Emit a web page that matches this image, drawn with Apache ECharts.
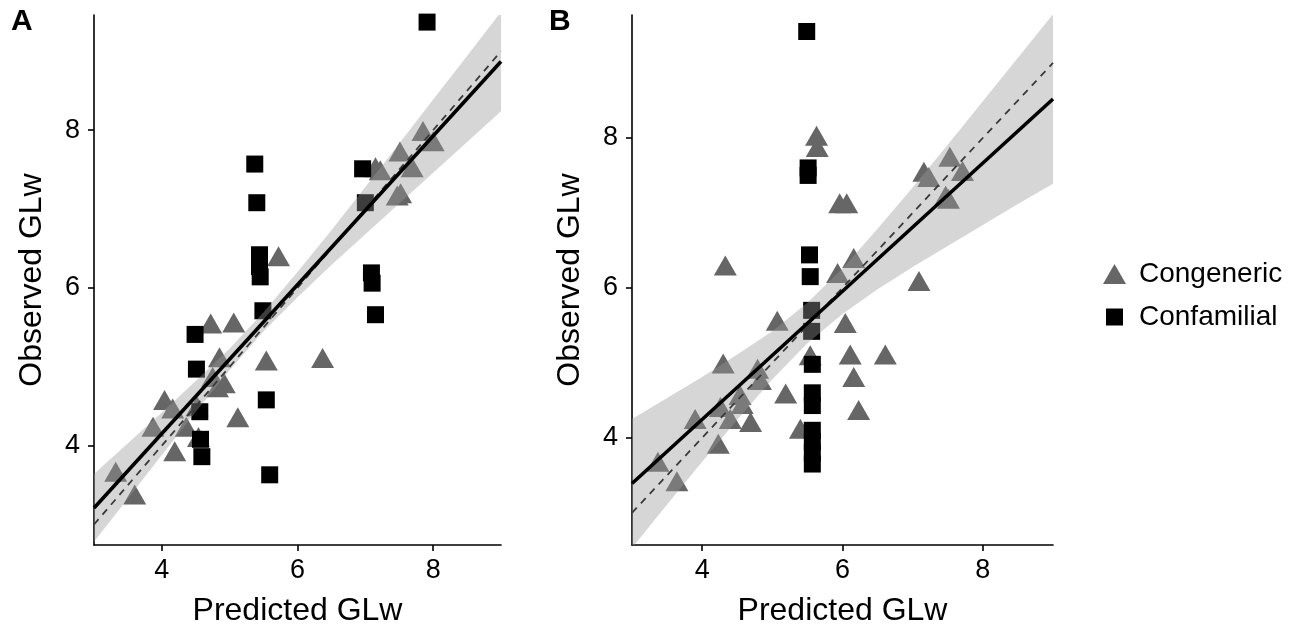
<!DOCTYPE html>
<html>
<head>
<meta charset="utf-8">
<script src="https://cdn.jsdelivr.net/npm/echarts@6/dist/echarts.min.js"></script>
<style>
html,body{margin:0;padding:0;background:#fff;}
#chart{width:1302px;height:632px;}
</style>
</head>
<body>
<div id="chart"></div>
<script>
// ---- data ----
const xTickValues = [4, 6, 8];
const yTickValues = [4, 6, 8];
const seriesNames = ['Congeneric', 'Confamilial'];
const panelLabels = ['A', 'B'];
const xAxisTitle = 'Predicted GLw';
const yAxisTitle = 'Observed GLw';

// Panel A points [predicted, observed]
const congenericA = [
  [7.85,7.99],[8.00,7.86],[7.51,7.73],[7.15,7.53],[7.22,7.49],[7.69,7.53],[7.47,7.17],[7.52,7.20],
  [5.72,6.40],[4.72,5.55],[5.06,5.56],[4.85,5.12],[5.54,5.08],[6.37,5.11],[4.75,4.87],[4.92,4.79],
  [4.82,4.74],[4.04,4.58],[4.16,4.47],[4.52,4.50],[5.12,4.36],[3.87,4.24],[4.36,4.24],[4.54,4.11],
  [4.19,3.93],[3.32,3.67],[3.60,3.38]
];
const confamilialA = [
  [7.91,9.37],[5.37,7.57],[5.40,7.08],[5.44,6.42],[5.44,6.27],[5.45,6.14],[5.49,5.71],
  [6.96,7.51],[7.00,7.08],[7.09,6.19],[7.10,6.06],[7.15,5.66],
  [4.49,5.41],[4.51,4.97],[4.56,4.43],[4.57,4.08],[4.59,3.86],[5.54,4.58],[5.59,3.63]
];
// Panel B points
const congenericB = [
  [5.63,8.03],[5.64,7.88],[5.96,7.13],[6.06,7.13],[7.16,7.55],[7.23,7.48],[7.53,7.75],[7.71,7.56],
  [7.47,7.23],[7.51,7.19],[4.33,6.30],[6.16,6.40],[5.93,6.20],[7.09,6.09],[5.07,5.56],[6.04,5.53],
  [6.11,5.11],[6.61,5.11],[5.54,5.10],[6.16,4.81],[6.23,4.37],[4.30,4.99],[5.19,4.59],[4.79,4.92],
  [4.83,4.77],[4.54,4.57],[4.57,4.45],[4.26,4.41],[4.40,4.25],[4.69,4.21],[3.90,4.25],[4.23,3.92],
  [5.40,4.12],[3.37,3.68],[3.64,3.42]
];
const confamilialB = [
  [5.49,9.42],[5.51,7.60],[5.51,7.50],[5.53,6.44],[5.54,6.15],[5.56,5.70],[5.56,5.42],
  [5.57,4.98],[5.57,4.60],[5.57,4.43],[5.57,4.10],[5.57,3.95],[5.57,3.80],[5.57,3.65]
];

// regression fits and 1:1 line (end points at x = 3 and 9)
const fitA = [[3,3.21],[9,8.87]];
const fitB = [[3,3.39],[9,8.52]];
const oneToOne = [[3,3],[9,9]];

// confidence bands
const bandX = [3,3.5,4,4.5,5,5.5,6,6.5,7,7.5,8,8.5,9];
const bandLowA  = [2.78,3.33,3.88,4.43,4.96,5.45,5.88,6.29,6.68,7.07,7.46,7.85,8.24];
const bandHighA = [3.64,4.03,4.42,4.82,5.23,5.69,6.20,6.73,7.28,7.83,8.39,8.94,9.50];
const bandLowB  = [2.53,3.11,3.68,4.24,4.78,5.26,5.65,5.98,6.28,6.56,6.84,7.12,7.39];
const bandHighB = [4.25,4.53,4.81,5.11,5.42,5.80,6.26,6.79,7.34,7.91,8.49,9.07,9.65];

const xRange = [3, 9];
const yRangeA = [2.74, 9.46];
const yRangeB = [2.57, 9.64];

// ---- styling ----
const FONT = '"Liberation Sans", Arial, sans-serif';
const TRI_COLOR = '#666666';
const SQ_COLOR = '#000000';
const BAND_COLOR = 'rgba(153,153,153,0.4)';

function xAxisFor(gridIndex){
  return {
    type:'value', gridIndex, min:xRange[0], max:xRange[1],
    name:xAxisTitle, nameLocation:'middle', nameGap:50,
    nameTextStyle:{fontSize:32, color:'#000', fontFamily:FONT},
    splitLine:{show:false},
    axisLine:{show:true, onZero:false, lineStyle:{color:'#000', width:1.6}},
    axisTick:{show:true, length:6, customValues:xTickValues, lineStyle:{color:'#000', width:1.6}},
    axisLabel:{customValues:xTickValues, margin:12, fontSize:27, color:'#000', fontFamily:FONT}
  };
}
function yAxisFor(gridIndex, range, gap){
  return {
    type:'value', gridIndex, min:range[0], max:range[1],
    name:yAxisTitle, nameLocation:'middle', nameGap:gap, nameRotate:90,
    nameTextStyle:{fontSize:32, color:'#000', fontFamily:FONT},
    splitLine:{show:false},
    axisLine:{show:true, onZero:false, lineStyle:{color:'#000', width:1.6}},
    axisTick:{show:true, length:6, customValues:yTickValues, lineStyle:{color:'#000', width:1.6}},
    axisLabel:{customValues:yTickValues, margin:14, fontSize:27, color:'#000', fontFamily:FONT}
  };
}

function bandSeries(idx, lo, hi){
  return {
    type:'custom', xAxisIndex:idx, yAxisIndex:idx, z:3, silent:true, clip:true,
    data: bandX.map((x,i)=>[x, lo[i], hi[i]]),
    encode:{x:0, y:[1,2]},
    renderItem:(params, api)=>{
      if (params.dataIndex !== 0) return null;
      const upper = bandX.map((x,i)=>api.coord([x, hi[i]]));
      const lower = bandX.map((x,i)=>api.coord([x, lo[i]])).reverse();
      const cs = params.coordSys;
      return {
        type:'polygon',
        z2:10,
        shape:{points:upper.concat(lower)},
        style:{fill:BAND_COLOR},
        clipPath:{type:'rect', shape:{x:cs.x, y:cs.y, width:cs.width, height:cs.height}}
      };
    }
  };
}

function panelSeries(idx, tri, sq, fit, lo, hi){
  return [
    {name:seriesNames[0], type:'scatter', xAxisIndex:idx, yAxisIndex:idx, z:2,
     symbol:'triangle', symbolSize:[23,20], itemStyle:{color:TRI_COLOR, opacity:1}, data:tri},
    {name:seriesNames[1], type:'scatter', xAxisIndex:idx, yAxisIndex:idx, z:2,
     symbol:'rect', symbolSize:17, itemStyle:{color:SQ_COLOR, opacity:1}, data:sq},
    bandSeries(idx, lo, hi),
    {type:'line', xAxisIndex:idx, yAxisIndex:idx, z:4, symbol:'none', silent:true,
     lineStyle:{color:'#3a3a3a', width:1.8, type:[7,6]}, data:oneToOne},
    {type:'line', xAxisIndex:idx, yAxisIndex:idx, z:5, symbol:'none', silent:true,
     lineStyle:{color:'#000', width:3.6}, data:fit}
  ];
}

const chart = echarts.init(document.getElementById('chart'), null, {renderer:'canvas'});
chart.setOption({
  backgroundColor:'#fff',
  animation:false,
  title:[
    {text:panelLabels[0], left:6, top:2, padding:5, textStyle:{fontSize:30, fontWeight:'bold', color:'#000', fontFamily:FONT}},
    {text:panelLabels[1], left:544, top:2, padding:5, textStyle:{fontSize:30, fontWeight:'bold', color:'#000', fontFamily:FONT}}
  ],
  legend:{
    orient:'vertical', left:1098, top:255, itemWidth:23, itemHeight:20, itemGap:15,
    data:[{name:seriesNames[0], icon:'triangle'},
          {name:seriesNames[1], icon:'path://M0,0 M23,20 M3,1.5 L20,1.5 L20,18.5 L3,18.5 Z'}],
    textStyle:{fontSize:28, color:'#000', fontFamily:FONT, padding:[0,0,0,8]},
    selectedMode:false
  },
  grid:[
    {left:94, top:15, width:407, height:534, containLabel:false},
    {left:632, top:15, width:421, height:534, containLabel:false}
  ],
  xAxis:[xAxisFor(0), xAxisFor(1)],
  yAxis:[yAxisFor(0, yRangeA, 46), yAxisFor(1, yRangeB, 46)],
  series:[
    ...panelSeries(0, congenericA, confamilialA, fitA, bandLowA, bandHighA),
    ...panelSeries(1, congenericB, confamilialB, fitB, bandLowB, bandHighB)
  ]
});
</script>
</body>
</html>
